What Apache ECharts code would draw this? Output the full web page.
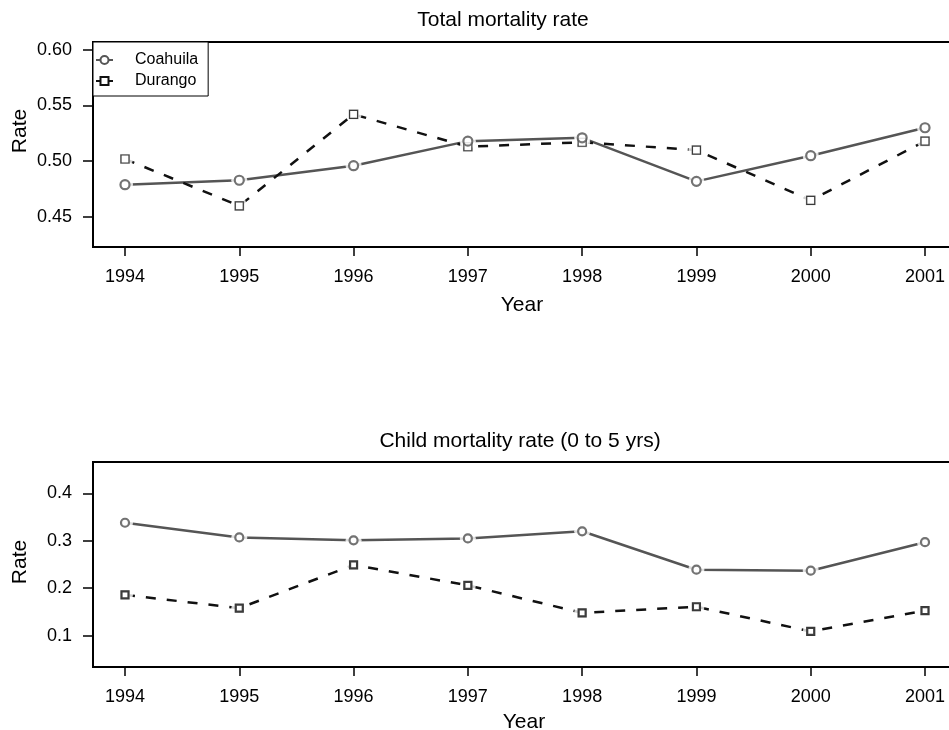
<!DOCTYPE html>
<html>
<head>
<meta charset="utf-8">
<script src="https://cdn.jsdelivr.net/npm/echarts@6/dist/echarts.min.js"></script>
<style>
html,body{margin:0;padding:0;background:#fff;overflow:hidden;}
#chart{width:949px;height:730px;}
</style>
</head>
<body>
<div id="chart"></div>
<script>
const years = [1994, 1995, 1996, 1997, 1998, 1999, 2000, 2001];
const totalCoahuila = [0.479, 0.483, 0.496, 0.518, 0.521, 0.482, 0.505, 0.530];
const totalDurango  = [0.502, 0.460, 0.542, 0.513, 0.517, 0.510, 0.465, 0.518];
const childCoahuila = [0.338, 0.307, 0.301, 0.305, 0.320, 0.239, 0.237, 0.297];
const childDurango  = [0.186, 0.158, 0.249, 0.206, 0.148, 0.161, 0.109, 0.153];
const totalTicks = [0.45, 0.50, 0.55, 0.60];
const childTicks = [0.1, 0.2, 0.3, 0.4];
const seriesNames = ['Coahuila', 'Durango'];
const titles = ['Total mortality rate', 'Child mortality rate (0 to 5 yrs)'];

const FONT = '"Liberation Sans", Arial, Helvetica, sans-serif';
const GREY = '#555555', BLACK = '#111111';
const pair = (xs, ys) => xs.map((x, i) => [x, ys[i]]);

function xAxis(gi) {
  return {
    type: 'value', gridIndex: gi, min: 1993.72, max: 2001.28,
    axisLine: {show: false},
    splitLine: {show: false},
    axisTick: {show: true, length: 9, inside: false, customValues: years,
      lineStyle: {color: '#000', width: 1.5}},
    axisLabel: {show: true, customValues: years, margin: 21,
      color: '#000', fontSize: 18, fontFamily: FONT, formatter: v => String(v)}
  };
}
function yAxis(gi, min, max, ticks, dec) {
  return {
    type: 'value', gridIndex: gi, min: min, max: max,
    axisLine: {show: false},
    splitLine: {show: false},
    axisTick: {show: true, length: 10, customValues: ticks,
      lineStyle: {color: '#000', width: 1.5}},
    axisLabel: {show: true, customValues: ticks, margin: 21,
      color: '#000', fontSize: 18, fontFamily: FONT, formatter: v => v.toFixed(dec)}
  };
}
// line (with symbols for the legend icon)
function lineSeries(name, gi, data, color, dash, symbol, size, bw) {
  return {
    name: name, type: 'line', xAxisIndex: gi, yAxisIndex: gi,
    data: data, symbol: symbol, symbolSize: size,
    lineStyle: {color: color, width: 2.5, type: dash},
    itemStyle: {color: color, borderColor: color, borderWidth: bw},
    z: 1
  };
}
// white gap around each point (like R type = "b")
function haloSeries(gi, data) {
  return {
    type: 'scatter', xAxisIndex: gi, yAxisIndex: gi, data: data,
    symbol: 'circle', symbolSize: 16, silent: true,
    itemStyle: {color: '#ffffff', borderWidth: 0},
    z: 2
  };
}
function pointSeries(gi, data, color, symbol, size, bw) {
  return {
    type: 'scatter', xAxisIndex: gi, yAxisIndex: gi, data: data,
    symbol: symbol, symbolSize: size, silent: true,
    itemStyle: {color: '#ffffff', borderColor: color, borderWidth: bw},
    z: 3
  };
}

const tC = pair(years, totalCoahuila), tD = pair(years, totalDurango);
const cC = pair(years, childCoahuila), cD = pair(years, childDurango);

const chart = echarts.init(document.getElementById('chart'), null, {renderer: 'canvas'});
chart.setOption({
  animation: false,
  backgroundColor: '#fff',
  textStyle: {fontFamily: FONT},
  grid: [
    {left: 93, top: 42, width: 864, height: 205, show: true, borderColor: '#000', borderWidth: 2,
     backgroundColor: 'transparent', containLabel: false, outerBoundsMode: 'none'},
    {left: 93, top: 462, width: 864, height: 205, show: true, borderColor: '#000', borderWidth: 2,
     backgroundColor: 'transparent', containLabel: false, outerBoundsMode: 'none'}
  ],
  xAxis: [xAxis(0), xAxis(1)],
  yAxis: [
    yAxis(0, 0.4232, 0.6068, totalTicks, 2),
    yAxis(1, 0.034, 0.466, childTicks, 1)
  ],
  legend: {
    show: true, orient: 'vertical', left: 93, top: 42,
    data: [
      {name: seriesNames[0], lineStyle: {width: 2}},
      {name: seriesNames[1], lineStyle: {width: 2, type: 'solid'}}
    ],
    itemWidth: 17, itemHeight: 10, itemGap: 5,
    padding: [10, 10, 7, 2],
    borderColor: '#000', borderWidth: 1, backgroundColor: '#fff',
    textStyle: {fontSize: 16, color: '#000', fontFamily: FONT, padding: [0, 0, 0, 17]},
    selectedMode: false
  },
  graphic: [
    {type: 'text', x: 503, y: 20, style: {text: titles[0], fontSize: 21, fontFamily: FONT, fill: '#000', textAlign: 'center', textVerticalAlign: 'middle'}},
    {type: 'text', x: 520, y: 441, style: {text: titles[1], fontSize: 21, fontFamily: FONT, fill: '#000', textAlign: 'center', textVerticalAlign: 'middle'}},
    {type: 'text', x: 522, y: 305, style: {text: 'Year', fontSize: 21, fontFamily: FONT, fill: '#000', textAlign: 'center', textVerticalAlign: 'middle'}},
    {type: 'text', x: 524, y: 722, style: {text: 'Year', fontSize: 21, fontFamily: FONT, fill: '#000', textAlign: 'center', textVerticalAlign: 'middle'}},
    {type: 'text', x: 20, y: 131, rotation: Math.PI / 2, style: {text: 'Rate', fontSize: 21, fontFamily: FONT, fill: '#000', textAlign: 'center', textVerticalAlign: 'middle'}},
    {type: 'text', x: 20, y: 562, rotation: Math.PI / 2, style: {text: 'Rate', fontSize: 21, fontFamily: FONT, fill: '#000', textAlign: 'center', textVerticalAlign: 'middle'}}
  ],
  series: [
    lineSeries(seriesNames[0], 0, tC, GREY, 'solid', 'emptyCircle', 9, 2.2),
    lineSeries(seriesNames[1], 0, tD, BLACK, [10, 11], 'emptyRect', 8, 1.2),
    lineSeries(seriesNames[0], 1, cC, GREY, 'solid', 'emptyCircle', 8, 2.2),
    lineSeries(seriesNames[1], 1, cD, BLACK, [10, 11], 'emptyRect', 7, 2.2),
    haloSeries(0, tC), haloSeries(0, tD), haloSeries(1, cC), haloSeries(1, cD),
    pointSeries(0, tD, BLACK, 'rect', 8, 1.2),
    pointSeries(0, tC, GREY, 'circle', 9, 2.2),
    pointSeries(1, cD, BLACK, 'rect', 7, 2.2),
    pointSeries(1, cC, GREY, 'circle', 8, 2.2)
  ]
});
</script>
</body>
</html>
